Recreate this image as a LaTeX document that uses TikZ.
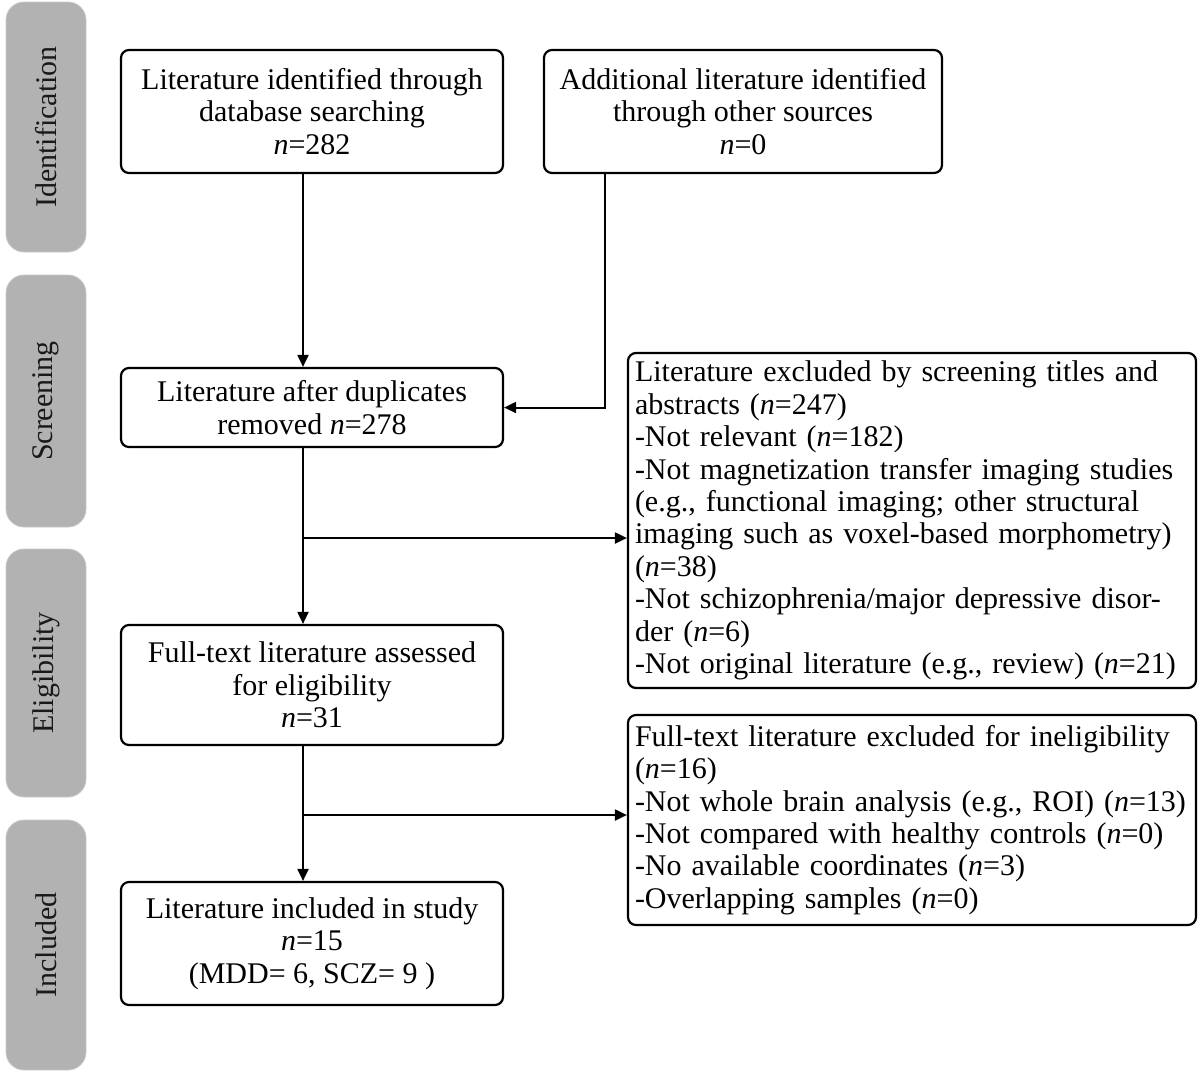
\documentclass[tikz,border=0pt]{standalone}
\usepackage{fontspec}
\setmainfont{Liberation Serif}
\usetikzlibrary{positioning, arrows.meta}
\definecolor{StageGray}{RGB}{178, 178, 178}
\definecolor{StageEdge}{RGB}{200, 200, 200}

\begin{document}
\begin{tikzpicture}[x=0.5pt, y=-0.5pt,
    font=\fontsize{15}{16.2}\selectfont,
    stage/.style={fill=StageGray, draw=StageEdge, rounded corners=9pt, rotate=90,
      minimum height=40pt, inner sep=0pt, text=black!90},
    box/.style={draw, line width=1.1pt, rounded corners=4pt, align=center,
      minimum width=191pt, inner sep=0pt},
    note/.style={draw, line width=1.1pt, rounded corners=4pt, align=left,
      text width=277pt, inner xsep=3.5pt, inner ysep=0pt},
    arr/.style={-{Triangle[length=6pt, width=5.5pt]}, line width=1pt}]
    \useasboundingbox (0,0) rectangle (1200,1073);

    % Stages on the left
    \node[stage, minimum width=125pt] (ident) at (46,127) {Identification};
    \node[stage, minimum width=126pt] (screen) at (46,401) {Screening};
    \node[stage, minimum width=124pt] (elig) at (46,673) {Eligibility};
    \node[stage, minimum width=125pt] (inclst) at (46,945) {Included};

    % Main column
    \node[box, minimum height=61.5pt] (db) at (312,111.5)
      {Literature identified through\\database searching\\\textit{n}=282};
    \node[box, minimum width=199pt, minimum height=61.5pt] (other) at (743,111.5)
      {Additional literature identified\\through other sources\\\textit{n}=0};
    \node[box, minimum height=39.5pt] (dup) at (312,407.5)
      {Literature after duplicates\\removed \textit{n}=278};
    \node[box, minimum height=60pt] (full) at (312,685)
      {Full-text literature assessed\\for eligibility\\\textit{n}=31};
    \node[box, minimum height=61.5pt] (incl) at (312,943.5)
      {Literature included in study\\\textit{n}=15\\(MDD= 6, SCZ= 9 )};

    % Exclusion boxes
    \node[note, minimum height=167.5pt] (scr) at (912,520.5)
      {Literature excluded by screening titles and\\abstracts (\textit{n}=247)\\-Not relevant (\textit{n}=182)\\-Not magnetization transfer imaging studies\\(e.g., functional imaging; other structural\\imaging such as voxel-based morphometry)\\(\textit{n}=38)\\-Not schizophrenia/major depressive disor-\\der (\textit{n}=6)\\-Not original literature (e.g., review) (\textit{n}=21)};
    \node[note, minimum height=105pt] (inel) at (912,820)
      {Full-text literature excluded for ineligibility\\(\textit{n}=16)\\-Not whole brain analysis (e.g., ROI) (\textit{n}=13)\\-Not compared with healthy controls (\textit{n}=0)\\-No available coordinates (\textit{n}=3)\\-Overlapping samples (\textit{n}=0)};

    \coordinate (split1) at (303,538);
    \coordinate (split2) at (303,815);

    \draw[arr] ([xshift=-4.5pt]db.south) -- ([xshift=-4.5pt]dup.north);
    \draw[arr] ([xshift=-69pt]other.south) |- (dup.east);
    \draw[arr] ([xshift=-4.5pt]dup.south) -- ([xshift=-4.5pt]full.north);
    \draw[arr] ([xshift=-4.5pt]full.south) -- ([xshift=-4.5pt]incl.north);
    \draw[arr] (split1) -- (split1 -| scr.west);
    \draw[arr] (split2) -- (split2 -| inel.west);
  \end{tikzpicture}
\end{document}
